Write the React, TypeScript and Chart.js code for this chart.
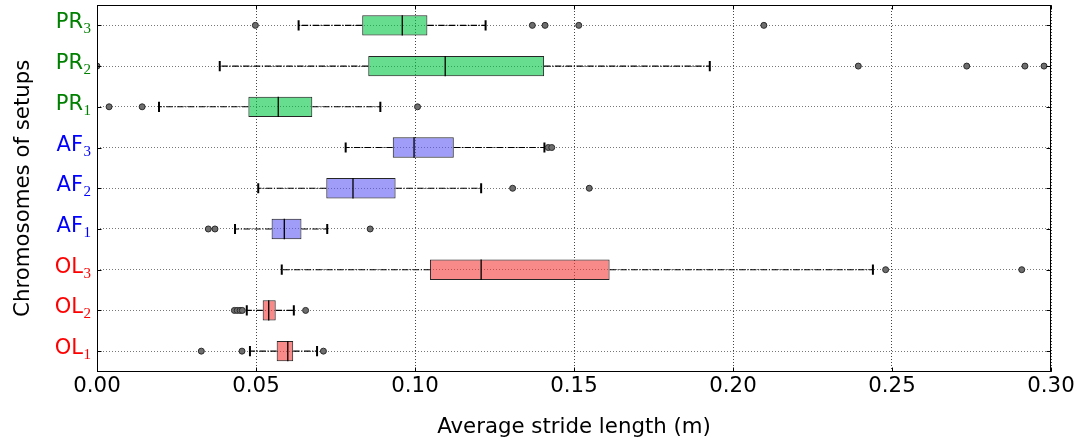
import { useEffect, useRef } from 'react';
import { Chart, registerables } from 'chart.js';

Chart.register(...registerables);

// ---- data ----
const categories = ['PR3', 'PR2', 'PR1', 'AF3', 'AF2', 'AF1', 'OL3', 'OL2', 'OL1'];
const labelBase = ['PR', 'PR', 'PR', 'AF', 'AF', 'AF', 'OL', 'OL', 'OL'];
const labelSub = ['3', '2', '1', '3', '2', '1', '3', '2', '1'];

const whiskerLow = [0.0634, 0.0386, 0.0195, 0.0782, 0.0507, 0.0434, 0.0581, 0.0471, 0.0481];
const q1 = [0.0834, 0.0853, 0.0476, 0.093, 0.0721, 0.0549, 0.1047, 0.0521, 0.0565];
const median = [0.096, 0.1095, 0.057, 0.0997, 0.0805, 0.0589, 0.1208, 0.054, 0.06];
const q3 = [0.1039, 0.1406, 0.0677, 0.1122, 0.0939, 0.0643, 0.1612, 0.0562, 0.0617];
const whiskerHigh = [0.1222, 0.1927, 0.0891, 0.1407, 0.1208, 0.0724, 0.244, 0.0619, 0.0692];
const outliers = [
  [0.0498, 0.1369, 0.1409, 0.1515, 0.2097],
  [0.0, 0.2394, 0.2735, 0.2918, 0.2978],
  [0.0038, 0.0142, 0.1008],
  [0.1419, 0.143],
  [0.1307, 0.1548],
  [0.035, 0.0371, 0.0859],
  [0.248, 0.2908],
  [0.0432, 0.0441, 0.045, 0.0457, 0.0656],
  [0.0328, 0.0456, 0.0712],
];

const xMin = 0;
const xMax = 0.3;
const xStep = 0.05;

const xTitle = 'Average stride length (m)';
const yTitle = 'Chromosomes of setups';

// ---- styles ----
const FONT = 'DejaVu Sans';
const FS = 21.3;
const groupFill: Record<string, string> = {
  PR: 'rgba(0,198,68,0.6)',
  AF: 'rgba(97,92,243,0.6)',
  OL: 'rgba(245,60,60,0.6)',
};
const groupText: Record<string, string> = {
  PR: '#008000',
  AF: '#0000ff',
  OL: '#ff0000',
};

const boxExtras = {
  id: 'boxExtras',
  beforeDatasetsDraw(chart: any) {
    const { ctx, chartArea, scales } = chart;
    const x = scales.x;
    const y = scales.y;
    ctx.save();
    ctx.beginPath();
    ctx.rect(chartArea.left, chartArea.top, chartArea.right - chartArea.left, chartArea.bottom - chartArea.top);
    ctx.clip();
    categories.forEach((_c, i) => {
      const yc = y.getPixelForValue(i);
      const capH = Math.abs(y.getPixelForValue(i + 0.125) - yc);
      ctx.strokeStyle = '#000';
      ctx.lineWidth = 1.1;
      ctx.setLineDash([6.4, 1.6, 1.2, 1.6]);
      ctx.beginPath();
      ctx.moveTo(x.getPixelForValue(q1[i]), yc);
      ctx.lineTo(x.getPixelForValue(whiskerLow[i]), yc);
      ctx.stroke();
      ctx.beginPath();
      ctx.moveTo(x.getPixelForValue(q3[i]), yc);
      ctx.lineTo(x.getPixelForValue(whiskerHigh[i]), yc);
      ctx.stroke();
      ctx.setLineDash([]);
      ctx.lineWidth = 2;
      [whiskerLow[i], whiskerHigh[i]].forEach((v) => {
        const px = x.getPixelForValue(v);
        ctx.beginPath();
        ctx.moveTo(px, yc - capH);
        ctx.lineTo(px, yc + capH);
        ctx.stroke();
      });
    });
    ctx.restore();
  },
  afterDatasetsDraw(chart: any) {
    const { ctx, scales } = chart;
    const x = scales.x;
    const y = scales.y;
    ctx.save();
    ctx.strokeStyle = '#000';
    ctx.lineWidth = 1.3;
    categories.forEach((_c, i) => {
      const yc = y.getPixelForValue(i);
      const h = Math.abs(y.getPixelForValue(i + 0.25) - yc);
      const px = x.getPixelForValue(median[i]);
      ctx.beginPath();
      ctx.moveTo(px, yc - h);
      ctx.lineTo(px, yc + h);
      ctx.stroke();
    });
    ctx.restore();
  },
  afterDraw(chart: any) {
    const { ctx, chartArea, scales } = chart;
    const x = scales.x;
    const y = scales.y;
    const L = Math.round(chartArea.left) + 0.5;
    const R = Math.round(chartArea.right) - 0.5;
    const T = Math.round(chartArea.top) + 0.5;
    const B = Math.round(chartArea.bottom) - 0.5;
    ctx.save();
    ctx.strokeStyle = '#000';
    ctx.lineWidth = 1;
    // inside ticks
    const tl = 4;
    x.ticks.forEach((_t: any, i: number) => {
      const px = Math.round(x.getPixelForTick(i)) + 0.5;
      ctx.beginPath();
      ctx.moveTo(px, B);
      ctx.lineTo(px, B - tl);
      ctx.moveTo(px, T);
      ctx.lineTo(px, T + tl);
      ctx.stroke();
    });
    categories.forEach((_c, i) => {
      const py = Math.round(y.getPixelForValue(i)) + 0.5;
      ctx.beginPath();
      ctx.moveTo(L, py);
      ctx.lineTo(L + tl, py);
      ctx.moveTo(R, py);
      ctx.lineTo(R - tl, py);
      ctx.stroke();
    });
    // frame
    ctx.strokeRect(L, T, R - L, B - T);
    // y labels with subscripts
    categories.forEach((_c, i) => {
      const yc = y.getPixelForValue(i);
      const base = labelBase[i];
      const sub = labelSub[i];
      ctx.font = `15px "Liberation Serif"`;
      const subW = ctx.measureText(sub).width;
      const subX = chartArea.left - 6 - subW;
      ctx.fillStyle = groupText[base];
      ctx.textBaseline = 'alphabetic';
      ctx.textAlign = 'left';
      ctx.fillText(sub, subX, yc + 8);
      ctx.font = `21px "${FONT}"`;
      ctx.textAlign = 'right';
      ctx.fillText(base, subX - 0.5, yc + 3);
    });
    ctx.restore();
  },
};

export default function App() {
  const canvasRef = useRef<HTMLCanvasElement | null>(null);

  useEffect(() => {
    const canvas = canvasRef.current;
    if (!canvas) return;
    const flierData = outliers.flatMap((arr, i) => arr.map((v) => ({ x: v, y: categories[i] })));
    const chart = new Chart(canvas, {
      type: 'bar',
      data: {
        labels: categories,
        datasets: [
          {
            type: 'bar',
            data: categories.map((_c, i) => [q1[i], q3[i]]),
            backgroundColor: labelBase.map((g) => groupFill[g]),
            borderColor: 'rgba(0,0,0,0.85)',
            borderWidth: 1,
            borderSkipped: false,
            barPercentage: 0.5,
            categoryPercentage: 1,
            order: 2,
          } as any,
          {
            type: 'scatter',
            data: flierData,
            pointRadius: 3,
            pointBackgroundColor: '#6e6e6e',
            pointBorderColor: '#2a2a2a',
            pointBorderWidth: 1,
            showLine: false,
            order: 1,
          } as any,
        ],
      },
      options: {
        indexAxis: 'y',
        responsive: false,
        animation: false,
        devicePixelRatio: 1,
        events: [],
        layout: { padding: { left: 0, right: 26, top: 3.5, bottom: 0 } },
        plugins: { legend: { display: false }, tooltip: { enabled: false } },
        scales: {
          x: {
            type: 'linear',
            min: xMin,
            max: xMax,
            ticks: {
              stepSize: xStep,
              callback: (v: any) => Number(v).toFixed(2),
              color: '#000',
              font: { family: FONT, size: FS },
              padding: 2,
              autoSkip: false,
              maxRotation: 0,
            },
            grid: { color: '#444', lineWidth: 1, drawTicks: false },
            border: { display: false, dash: [1, 2] },
            title: {
              display: true,
              text: xTitle,
              color: '#000',
              font: { family: FONT, size: FS },
              padding: { top: 0, bottom: 3 },
            },
            afterFit: (s: any) => {
              s.height = 71.5;
            },
          },
          y: {
            type: 'category',
            offset: true,
            grid: { offset: false, color: '#777', lineWidth: 1, drawTicks: false },
            border: { display: false, dash: [1, 2] },
            ticks: { display: false },
            title: {
              display: true,
              text: yTitle,
              color: '#000',
              font: { family: FONT, size: FS },
              padding: { top: 11, bottom: 0 },
            },
            afterFit: (s: any) => {
              s.width = 97;
            },
          },
        },
      } as any,
      plugins: [boxExtras],
    });
    return () => chart.destroy();
  }, []);

  return (
    <div style={{ position: 'fixed', left: 0, top: 0, width: 1077, height: 443, background: '#fff' }}>
      <canvas ref={canvasRef} width={1077} height={443} style={{ width: 1077, height: 443 }} />
    </div>
  );
}
